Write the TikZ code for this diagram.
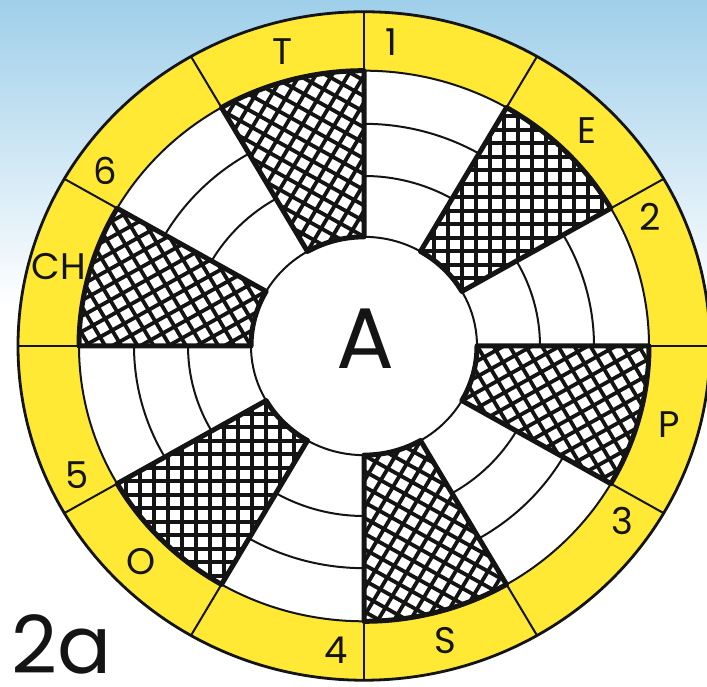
\documentclass[tikz,border=0pt]{standalone}
\usepackage{fontspec}
\setmainfont{Poppins}
\usepackage{xcolor}
\usepackage{tikz}
\definecolor{Ring}{HTML}{FFE935}
\definecolor{Sky}{HTML}{9FCFEA}
\definecolor{Ink}{HTML}{141414}
\tikzset{
  thinline/.style={draw=Ink,line width=2pt},
  boldline/.style={draw=Ink,line width=5pt,line join=round},
  hatchline/.style={draw=Ink,line width=3.8pt},
  lbl/.style={font=\fontsize{37}{37}\selectfont,text=Ink,inner sep=0pt},
}

\begin{document}
\begin{tikzpicture}[x=1pt,y=1pt]
\path[use as bounding box] (0,0) rectangle (707,687);
\shade[top color=Sky,bottom color=white] (0,380) rectangle (707,687);

\begin{scope}[shift={(364,341)},yscale=0.966]
% yellow ring and white disc
\fill[Ring] (0,0) circle (346);
\fill[white] (0,0) circle (285);

% open sectors, two arcs each
\foreach \k in {0,...,5}{
  \pgfmathsetmacro\a{60-60*\k}
  \foreach \r in {176,230}{
    \draw[thinline] (\a:\r) arc[start angle=\a,delta angle=30,radius=\r];
  }
}

% cross-hatched sectors
\foreach \k in {0,...,5}{
  \pgfmathsetmacro\b{90-60*\k}
  \begin{scope}
    \clip (\b:113) -- (\b:285) arc[start angle=\b,delta angle=30,radius=285]
      -- ({\b+30}:113) arc[start angle=\b+30,delta angle=-30,radius=113] -- cycle;
    \draw[hatchline,rotate=\b+60,step=14] (-300,-300) grid (300,300);
  \end{scope}
}

\draw[thinline] (0,0) circle (285);
\draw[thinline] (0,0) circle (113);
\foreach \k in {0,...,5}{
  \pgfmathsetmacro\b{90-60*\k}
  \draw[boldline] (\b:113) -- (\b:285) arc[start angle=\b,delta angle=30,radius=285]
    -- ({\b+30}:113) arc[start angle=\b+30,delta angle=-30,radius=113] -- cycle;
}

% ring dividers
\foreach \t in {0,30,...,330}{\draw[thinline] (\t:285) -- (\t:346);}
\draw[draw=Ink,line width=2.8pt] (0,0) circle (346);

% letters and numbers on the ring
\foreach \k/\ltr/\num in {0/T/1,1/E/2,2/P/3,3/S/4,4/O/5,5/CH/6}{
  \node[lbl] (let\k) at ({105-60*\k}:316) {\ltr};
  \node[lbl] (num\k) at ({85-60*\k}:316) {\num};
}
\node[font=\fontsize{86}{86}\selectfont,text=Ink,inner sep=0pt] (hub) at (1,8) {A};
\end{scope}

\node[font=\fontsize{80}{80}\selectfont,text=Ink,inner sep=0pt] (figtag) at (61.5,43) {2a};
\end{tikzpicture}
\end{document}
